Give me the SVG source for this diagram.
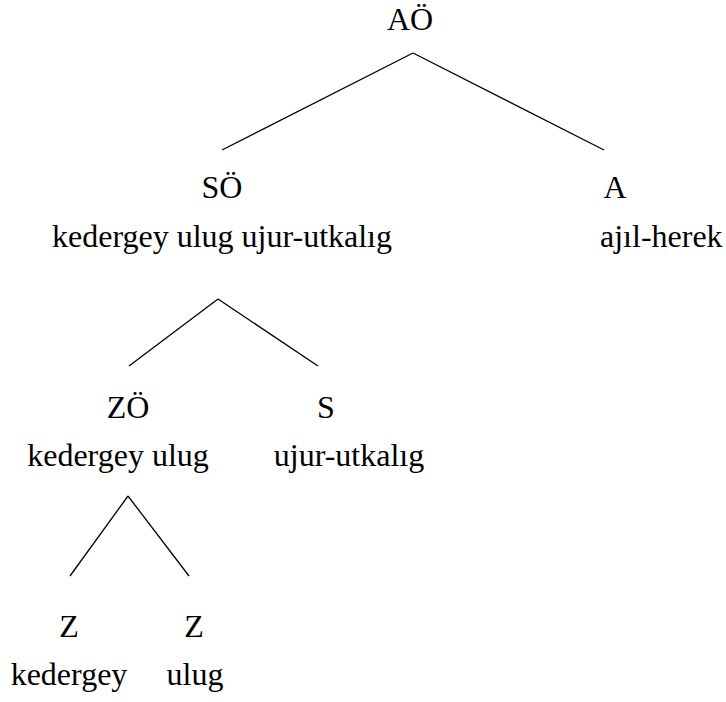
<svg xmlns="http://www.w3.org/2000/svg" width="726" height="702" viewBox="0 0 726 702">
<style>
text{font-family:"Liberation Serif",serif !important;font-size:32px;fill:#000}
.c{text-anchor:middle}
.e line{stroke:#000;stroke-width:1.3;fill:none}
</style>
<rect width="726" height="702" fill="#fff"/>
<g id="connectors" class="e">
<line x1="413" y1="53" x2="222" y2="150"/>
<line x1="413" y1="53" x2="604" y2="150"/>
<line x1="218" y1="299" x2="129" y2="366"/>
<line x1="218" y1="299" x2="318" y2="366"/>
<line x1="128" y1="496" x2="70" y2="576"/>
<line x1="128" y1="496" x2="189" y2="576"/>
</g>
<g id="AO"><text class="c" x="410" y="30">AÖ</text></g>
<g id="SO"><text class="c" x="222" y="198">SÖ</text><text class="c" x="222" y="247">kedergey ulug ujur-utkalıg</text></g>
<g id="A"><text class="c" x="615" y="198">A</text><text x="600" y="247">ajıl-herek</text></g>
<g id="ZO"><text class="c" x="128" y="418">ZÖ</text><text class="c" x="118" y="466">kedergey ulug</text></g>
<g id="S"><text class="c" x="326" y="418">S</text><text class="c" x="349" y="466">ujur-utkalıg</text></g>
<g id="Z1"><text class="c" x="69" y="637">Z</text><text class="c" x="69" y="685">kedergey</text></g>
<g id="Z2"><text class="c" x="194" y="637">Z</text><text class="c" x="195" y="685">ulug</text></g>
</svg>
